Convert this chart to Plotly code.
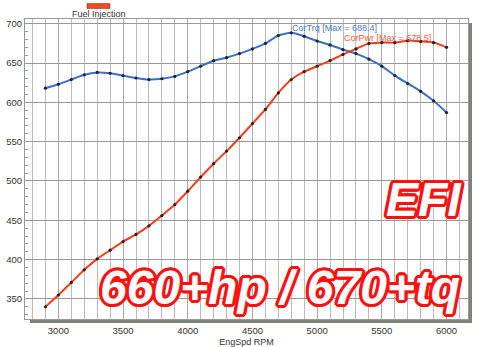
import plotly.graph_objects as go

rpm = [2900, 3000, 3100, 3200, 3300, 3400, 3500, 3600, 3700, 3800, 3900, 4000,
       4100, 4200, 4300, 4400, 4500, 4600, 4700, 4800, 4900, 5000, 5100, 5200,
       5300, 5400, 5500, 5600, 5700, 5800, 5900, 6000]
cor_trq = [618, 623, 629, 635, 638, 637, 634, 631, 629, 630, 633, 639,
           646, 653, 657, 662, 668, 675, 685, 688.4, 684, 678, 673, 667,
           662, 655, 646, 634, 624, 614, 602, 587]
cor_pwr = [340, 355, 371, 387, 401, 412, 423, 432, 443, 456, 470, 487,
           505, 522, 538, 555, 573, 591, 612, 629, 639, 646, 653, 661,
           668, 675, 676, 676, 678.5, 677.5, 676, 670]

x_ticks = [3000, 3500, 4000, 4500, 5000, 5500, 6000]
y_ticks = [350, 400, 450, 500, 550, 600, 650, 700]

BLUE = "#3a6fd2"
RED = "#f53c1a"

fig = go.Figure()
fig.add_trace(go.Scatter(x=rpm, y=cor_trq, mode="lines+markers", name="CorTrq",
                         line=dict(color=BLUE, width=2, shape="spline", smoothing=0.6),
                         marker=dict(color="#222", size=3.2)))
fig.add_trace(go.Scatter(x=rpm, y=cor_pwr, mode="lines+markers", name="CorPwr",
                         line=dict(color=RED, width=2, shape="spline", smoothing=0.6),
                         marker=dict(color="#222", size=3.2)))

L, R, T, B = 25, 12, 19, 28
W, H = 480, 347
pw, ph = W - L - R, H - T - B

fig.update_layout(
    width=W, height=H,
    margin=dict(l=L, r=R, t=T, b=B),
    paper_bgcolor="#ffffff", plot_bgcolor="#ffffff",
    showlegend=False,
    font=dict(family="Liberation Sans, Arial, sans-serif", size=9, color="#333"),
    xaxis=dict(range=[2742, 6166], tickvals=x_ticks, ticks="outside", ticklen=3,
               tickcolor="rgba(0,0,0,0)", showgrid=True, automargin=False,
               gridcolor="#aaaaaa", gridwidth=1,
               minor=dict(dtick=100, tick0=2800, showgrid=True, gridcolor="#bbbbbb", gridwidth=1),
               showline=True, linecolor="#999", mirror=True, zeroline=False,
               tickfont=dict(size=9.5, color="#333"),
               title=dict(text="EngSpd RPM", font=dict(size=9, color="#333"), standoff=6)),
    yaxis=dict(range=[324.5, 706], tickvals=y_ticks, ticks="", showgrid=True,
               gridcolor="#999999", gridwidth=1, automargin=False,
               minor=dict(dtick=10, tick0=0, ticks="inside", ticklen=3, tickcolor="#999", showgrid=False),
               showline=True, linecolor="#999", mirror=True, zeroline=False,
               tickfont=dict(size=9.5, color="#333")),
)

# drop shadow of plot frame
sh = "#7f817d"
fig.add_shape(type="rect", xref="paper", yref="paper", layer="below",
              x0=5 / pw, x1=1 + 4 / pw, y0=-4 / ph, y1=0, fillcolor=sh, line=dict(width=0))
fig.add_shape(type="rect", xref="paper", yref="paper", layer="below",
              x0=1, x1=1 + 4 / pw, y0=-4 / ph, y1=1 - 4 / ph, fillcolor=sh, line=dict(width=0))

# legend swatch and label
fig.add_shape(type="rect", xref="paper", yref="paper",
              x0=(87 - L) / pw, x1=(110 - L) / pw, y0=(H - B - 8.5) / ph, y1=(H - B - 3.5) / ph,
              fillcolor="#f04a1e", line=dict(color="#6a2a1a", width=0.5))
fig.add_annotation(xref="paper", yref="paper", x=(99 - L) / pw, y=(H - B - 14) / ph,
                   text="Fuel Injection", showarrow=False, xanchor="center", yanchor="middle",
                   font=dict(size=9, color="#333"))

# max labels
fig.add_annotation(x=4790, y=694, text="CorTrq [Max = 688.4]", showarrow=False,
                   xanchor="left", yanchor="middle", font=dict(size=9, color="#4a7ad6"))
fig.add_annotation(x=5190, y=682, text="CorPwr [Max = 678.5]", showarrow=False,
                   xanchor="left", yanchor="middle", font=dict(size=9, color="#f55a3a"))

outline = ", ".join(f"{dx}px {dy}px 0 #ff1010" for dx, dy in
                    [(-3, 0), (3, 0), (0, -3), (0, 3), (-2, -2), (2, -2), (-2, 2), (2, 2),
                     (-3, -1), (3, 1), (-1, 3), (1, -3), (3, -1), (-3, 1), (1, 3), (-1, -3)])

fig.add_annotation(xref="paper", yref="paper", x=(424 - L) / pw, y=(H - B - 199) / ph,
                   text="EFI", showarrow=False, xanchor="center", yanchor="middle",
                   font=dict(family="Liberation Sans, Arial, sans-serif", size=48,
                             color="#ffffff", weight="bold", style="italic", shadow=outline))
fig.add_annotation(xref="paper", yref="paper", x=(280 - L) / pw, y=(H - B - 287) / ph,
                   text="660+hp / 670+tq", showarrow=False, xanchor="center", yanchor="middle",
                   font=dict(family="Liberation Sans, Arial, sans-serif", size=48,
                             color="#ffffff", weight="bold", style="italic", shadow=outline))

fig.write_html("out.html")
